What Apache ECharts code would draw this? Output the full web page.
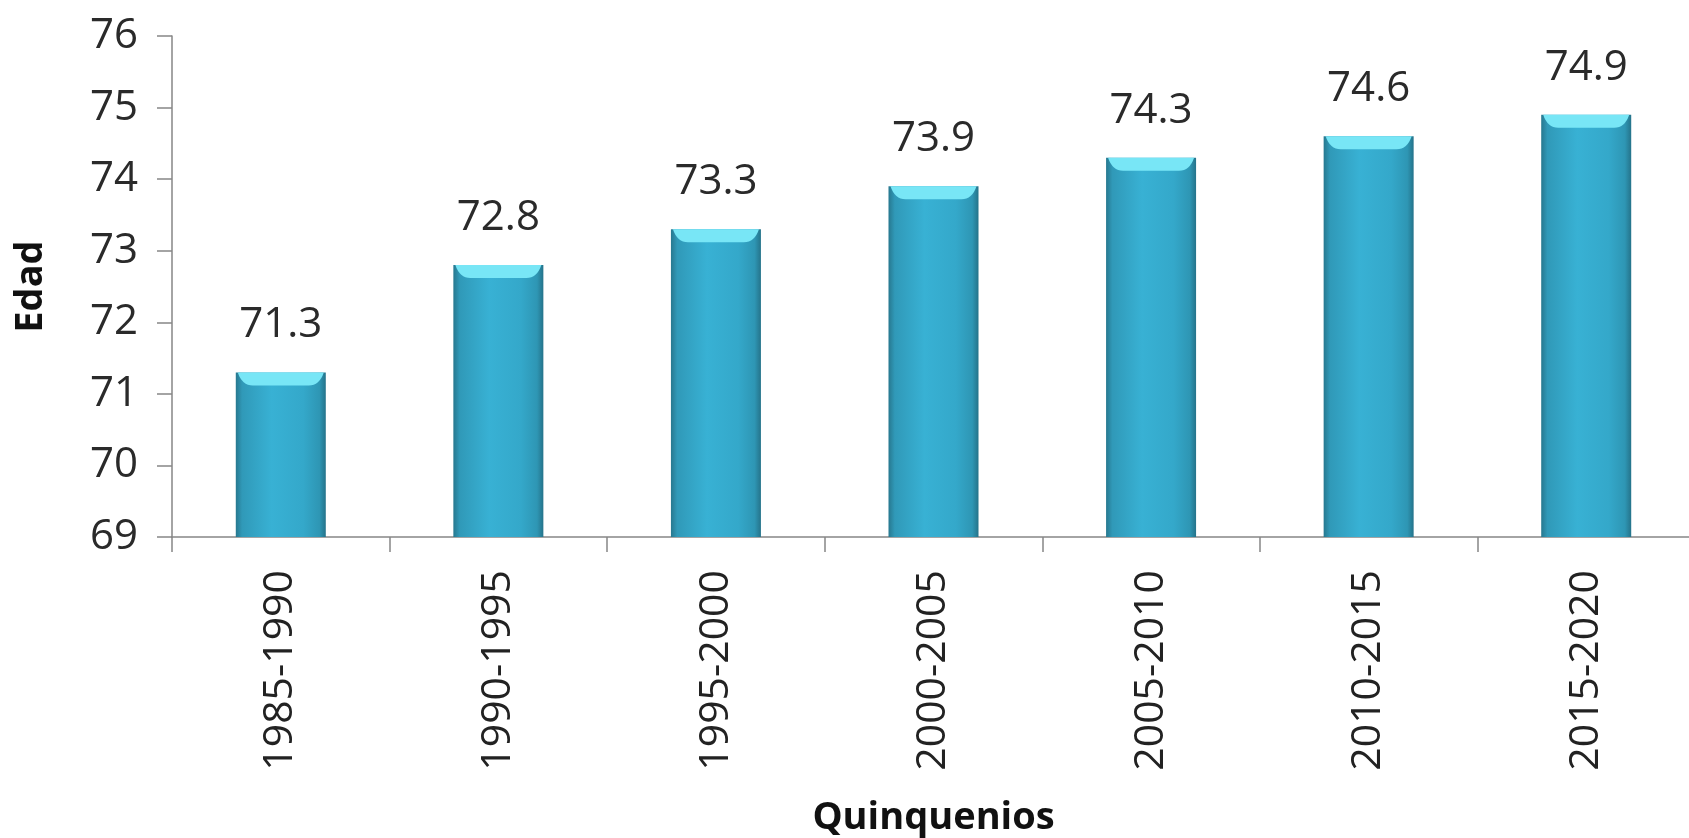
<!DOCTYPE html>
<html>
<head>
<meta charset="utf-8">
<script src="https://cdn.jsdelivr.net/npm/echarts@6/dist/echarts.min.js"></script>
<style>
  html, body { margin: 0; padding: 0; background: #fff; }
  #chart { width: 1689px; height: 838px; }
</style>
</head>
<body>
<div id="chart"></div>
<script>
const categories = ['1985-1990', '1990-1995', '1995-2000', '2000-2005', '2005-2010', '2010-2015', '2015-2020'];
const values = [71.3, 72.8, 73.3, 73.9, 74.3, 74.6, 74.9];
const yMin = 69;
const yMax = 76;

const chart = echarts.init(document.getElementById('chart'));
const font = '"Open Sans", "Noto Sans", sans-serif';

const barFill = new echarts.graphic.LinearGradient(0, 0, 1, 0, [
    { offset: 0, color: '#27788f' },
    { offset: 0.07, color: '#3099b8' },
    { offset: 0.4, color: '#38b1d4' },
    { offset: 0.75, color: '#34a8ca' },
    { offset: 0.93, color: '#2e96b4' },
    { offset: 1, color: '#25738a' }
]);

const option = {
    backgroundColor: '#fff',
    grid: {
        left: 172,
        top: 36,
        width: 1523,
        height: 501,
        outerBoundsMode: 'none'
    },
    xAxis: {
        type: 'category',
        data: categories,
        name: 'Quinquenios',
        nameLocation: 'middle',
        nameGap: 262,
        nameTextStyle: {
            fontFamily: font,
            fontWeight: 'bold',
            fontSize: 38,
            color: '#111'
        },
        axisLine: { show: true, lineStyle: { color: '#868686', width: 1.5 } },
        axisTick: { show: true, length: 15, lineStyle: { color: '#868686', width: 1.5 } },
        axisLabel: {
            rotate: 90,
            margin: 33,
            fontFamily: font,
            fontSize: 41,
            color: '#222'
        }
    },
    yAxis: {
        type: 'value',
        min: yMin,
        max: yMax,
        interval: 1,
        name: 'Edad',
        nameLocation: 'middle',
        nameRotate: 90,
        nameGap: 122,
        nameTextStyle: {
            fontFamily: font,
            fontWeight: 'bold',
            fontSize: 38,
            color: '#111'
        },
        axisLine: { show: true, lineStyle: { color: '#868686', width: 1.5 } },
        axisTick: { show: true, length: 15, lineStyle: { color: '#868686', width: 1.5 } },
        splitLine: { show: false },
        axisLabel: {
            margin: 34,
            fontFamily: font,
            fontSize: 42,
            color: '#2a2a2a'
        }
    },
    series: [
        {
            type: 'bar',
            data: values,
            barWidth: 90,
            itemStyle: {
                color: barFill
            },
            label: {
                show: true,
                position: 'top',
                distance: 26,
                fontFamily: font,
                fontSize: 42,
                color: '#2a2a2a',
                formatter: p => p.value.toFixed(1)
            }
        },
        {
            // light bevel on top of each bar
            type: 'pictorialBar',
            data: values,
            symbol: 'path://M0,0 L20,0 Q19,3 16.5,3 L3.5,3 Q1,3 0,0 Z',
            symbolSize: [86, 13],
            symbolPosition: 'end',
            itemStyle: { color: '#78e6f6' },
            silent: true,
            z: 3
        }
    ]
};

chart.setOption(option);

window.addEventListener('resize', _ => {
    chart.resize();
});
</script>
</body>
</html>
